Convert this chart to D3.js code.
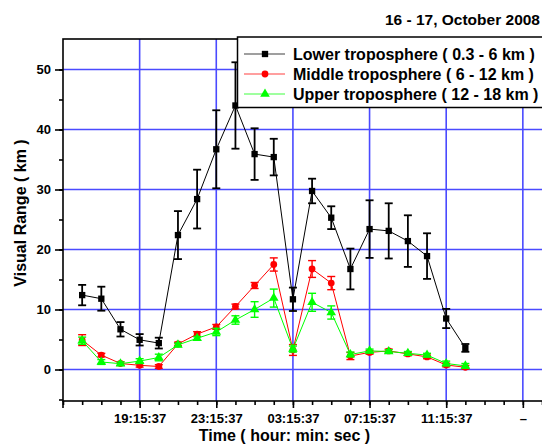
<!DOCTYPE html>
<html>
<head>
<meta charset="utf-8">
<script src="https://cdn.jsdelivr.net/npm/d3@7/dist/d3.min.js"></script>
<style>
  body { margin: 0; background: #fff; }
  svg { display: block; font-family: "Liberation Sans", Arial, sans-serif; font-weight: bold; }
</style>
</head>
<body>
<svg width="542" height="446"></svg>
<script>
// observation times (16 - 17 October 2008)
var times = ["16:15:37", "17:15:37", "18:15:37", "19:15:37", "20:15:37", "21:15:37", "22:15:37",
  "23:15:37", "00:15:37", "01:15:37", "02:15:37", "03:15:37", "04:15:37", "05:15:37", "06:15:37",
  "07:15:37", "08:15:37", "09:15:37", "10:15:37", "11:15:37", "12:15:37"];

var lowerVR = [12.4, 11.8, 6.7, 4.95, 4.4, 22.4, 28.4, 36.7, 44.0, 35.9, 35.4, 11.7, 29.75, 25.3, 16.75, 23.4, 23.1, 21.4, 18.9, 8.5, 3.6];
var lowerErr = [1.7, 2.0, 1.2, 0.95, 0.9, 4.0, 4.9, 6.5, 7.2, 4.3, 3.05, 1.95, 2.05, 1.9, 3.4, 4.8, 4.6, 4.3, 3.8, 1.6, 0.65];

var middleVR = [4.9, 2.4, 1.0, 0.7, 0.5, 4.25, 5.9, 7.1, 10.5, 14.0, 17.5, 3.25, 16.75, 14.4, 2.25, 2.85, 3.1, 2.6, 2.1, 0.75, 0.37];
var middleErr = [0.9, 0.3, 0.3, 0.3, 0.3, 0.3, 0.4, 0.4, 0.4, 0.5, 1.1, 0.9, 1.4, 1.1, 0.6, 0.3, 0.3, 0.3, 0.3, 0.3, 0.3];

var upperVR = [4.8, 1.25, 0.97, 1.4, 2.0, 4.1, 5.2, 6.25, 8.25, 10.0, 11.9, 3.4, 11.2, 9.5, 2.5, 3.1, 3.0, 2.7, 2.4, 1.0, 0.6];
var upperErr = [0.6, 0.4, 0.3, 0.4, 0.55, 0.3, 0.3, 0.6, 0.7, 1.3, 1.5, 0.5, 1.5, 1.1, 0.4, 0.3, 0.3, 0.3, 0.3, 0.4, 0.4];

var seriesNames = ["Lower troposphere ( 0.3 - 6 km )", "Middle troposphere ( 6 - 12 km )", "Upper troposphere ( 12 - 18 km )"];
var xTickLabels = ["19:15:37", "23:15:37", "03:15:37", "07:15:37", "11:15:37", "\u2013"];
var yTicks = [0, 10, 20, 30, 40, 50];

var parseT = d3.timeParse("%Y-%m-%d %H:%M:%S");
function toDate(t) {
  var h = +t.slice(0, 2);
  return parseT((h >= 15 ? "2008-10-16 " : "2008-10-17 ") + t);
}
var dates = times.map(toDate);
var start = parseT("2008-10-16 15:15:37");
var end = parseT("2008-10-17 16:15:37");

var svg = d3.select("svg");
var pLeft = 63, pRight = 542, pTop = 39, pBottom = 401;

var x = d3.scaleTime().domain([start, end]).range([pLeft, pRight]);
var y = d3.scaleLinear().domain([-5.25, 55.08]).range([pBottom, pTop]);

var majorTicks = d3.range(1, 7).map(function (i) { return d3.timeHour.offset(start, 4 * i); });
var minorTicks = d3.range(0, 26).map(function (i) { return d3.timeHour.offset(start, i); });

// grid
var grid = svg.append("g").attr("stroke", "#4a4aff").attr("stroke-width", 1.6);
grid.selectAll(".hg").data(yTicks).enter().append("line")
  .attr("x1", pLeft).attr("x2", pRight + 20)
  .attr("y1", function (d) { return y(d); }).attr("y2", function (d) { return y(d); });
grid.selectAll(".vg").data(majorTicks).enter().append("line")
  .attr("x1", function (d) { return x(d); }).attr("x2", function (d) { return x(d); })
  .attr("y1", pTop).attr("y2", pBottom);

// frame
svg.append("rect").attr("x", pLeft).attr("y", pTop).attr("width", pRight + 40 - pLeft).attr("height", pBottom - pTop)
  .attr("fill", "none").attr("stroke", "#000").attr("stroke-width", 1.6);

// x axis
var xAxis = svg.append("g").attr("transform", "translate(0," + pBottom + ")");
xAxis.call(d3.axisBottom(x).tickValues(minorTicks).tickSize(4).tickFormat(""))
  .call(function (g) { g.select(".domain").remove(); });
xAxis.selectAll(".tick line").attr("stroke-width", 1.6);
var xMajor = svg.append("g").attr("transform", "translate(0," + pBottom + ")")
  .call(d3.axisBottom(x).tickValues(majorTicks).tickSize(7).tickPadding(6)
    .tickFormat(function (d, i) { return xTickLabels[i]; }));
xMajor.select(".domain").remove();
xMajor.selectAll(".tick line").attr("stroke-width", 1.6);
xMajor.selectAll("text").attr("font-size", 13).attr("font-weight", "bold").attr("font-family", "Liberation Sans, Arial, sans-serif");
svg.append("line").attr("x1", pLeft).attr("x2", pLeft).attr("y1", pBottom).attr("y2", pBottom + 7)
  .attr("stroke", "#000").attr("stroke-width", 1.6);

// y axis
var yMinor = svg.append("g").attr("transform", "translate(" + pLeft + ",0)")
  .call(d3.axisLeft(y).tickValues(d3.range(-5, 55, 5)).tickSize(4).tickFormat(""));
yMinor.select(".domain").remove();
yMinor.selectAll(".tick line").attr("stroke-width", 1.6);
var yMajor = svg.append("g").attr("transform", "translate(" + pLeft + ",0)")
  .call(d3.axisLeft(y).tickValues(yTicks).tickSize(8).tickPadding(4));
yMajor.select(".domain").remove();
yMajor.selectAll(".tick line").attr("stroke-width", 1.6);
yMajor.selectAll("text").attr("font-size", 13).attr("font-weight", "bold").attr("font-family", "Liberation Sans, Arial, sans-serif");

// series
var series = [
  { name: seriesNames[0], values: lowerVR, err: lowerErr, color: "#000000", marker: "square", ew: 1.8 },
  { name: seriesNames[1], values: middleVR, err: middleErr, color: "#ff0000", marker: "circle", ew: 1.4 },
  { name: seriesNames[2], values: upperVR, err: upperErr, color: "#00ff00", marker: "triangle", ew: 1.4 }
];

var symbols = {
  square: d3.symbol().type(d3.symbolSquare).size(40),
  circle: d3.symbol().type(d3.symbolCircle).size(36),
  triangle: d3.symbol().type(d3.symbolTriangle).size(40)
};

var line = d3.line().x(function (d) { return x(d.t); }).y(function (d) { return y(d.v); });

series.forEach(function (s) {
  var pts = dates.map(function (t, i) { return { t: t, v: s.values[i], e: s.err[i] }; });
  var g = svg.append("g");
  g.append("path").datum(pts).attr("d", line).attr("fill", "none")
    .attr("stroke", s.color).attr("stroke-width", 1);
  var eb = g.selectAll(".eb").data(pts).enter().append("g")
    .attr("stroke", s.color).attr("stroke-width", s.ew);
  eb.append("line")
    .attr("x1", function (d) { return x(d.t); }).attr("x2", function (d) { return x(d.t); })
    .attr("y1", function (d) { return y(d.v - d.e); }).attr("y2", function (d) { return y(d.v + d.e); });
  eb.append("line")
    .attr("x1", function (d) { return x(d.t) - 4; }).attr("x2", function (d) { return x(d.t) + 4; })
    .attr("y1", function (d) { return y(d.v + d.e); }).attr("y2", function (d) { return y(d.v + d.e); });
  eb.append("line")
    .attr("x1", function (d) { return x(d.t) - 4; }).attr("x2", function (d) { return x(d.t) + 4; })
    .attr("y1", function (d) { return y(d.v - d.e); }).attr("y2", function (d) { return y(d.v - d.e); });
  g.selectAll(".mk").data(pts).enter().append("path")
    .attr("d", symbols[s.marker])
    .attr("transform", function (d) { return "translate(" + x(d.t) + "," + y(d.v) + ")"; })
    .attr("fill", s.color);
});

// legend
var lg = svg.append("g");
lg.append("rect").attr("x", 237.5).attr("y", 37).attr("width", 330).attr("height", 70.5)
  .attr("fill", "#fff").attr("stroke", "#000").attr("stroke-width", 1.5);
series.forEach(function (s, i) {
  var cy = 54 + i * 20;
  lg.append("line").attr("x1", 244).attr("x2", 285).attr("y1", cy).attr("y2", cy)
    .attr("stroke", s.color).attr("stroke-width", 1).attr("opacity", 0.75);
  lg.append("path").attr("d", symbols[s.marker]).attr("transform", "translate(265," + cy + ")").attr("fill", s.color);
  lg.append("text").attr("x", 293).attr("y", cy + 6).attr("font-size", 16).text(s.name);
});

// titles
svg.append("text").attr("x", 540).attr("y", 25).attr("text-anchor", "end").attr("font-size", 15.5)
  .text("16 - 17, October 2008");
svg.append("text").attr("x", 284.5).attr("y", 441).attr("text-anchor", "middle").attr("font-size", 16)
  .text("Time ( hour: min: sec )");
svg.append("text").attr("transform", "translate(26,213) rotate(-90)").attr("text-anchor", "middle").attr("font-size", 16)
  .text("Visual Range ( km )");
</script>
</body>
</html>
